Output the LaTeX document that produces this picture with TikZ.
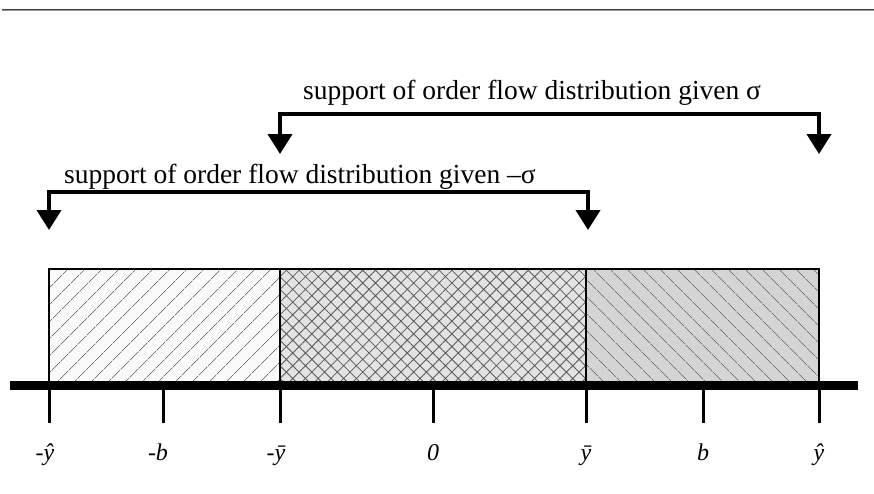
\documentclass[tikz,border=0pt]{standalone}
\usepackage{fontspec}
\setmainfont{Liberation Serif}
\usetikzlibrary{arrows.meta,patterns.meta}
\begin{document}
\begin{tikzpicture}[x=1pt,y=-1pt,
  bracket/.style={line width=4pt, line join=miter,
    {Triangle[width=24pt,length=20pt]}-{Triangle[width=24pt,length=20pt]}},
  ticklbl/.style={font=\fontsize{24}{28}\selectfont\itshape, anchor=base, inner sep=0pt},
  lbl/.style={font=\fontsize{27.5}{32}\selectfont, anchor=base west, inner sep=0pt},
  tickmark/.style={line width=3pt},
  boxline/.style={draw=black, line width=1.6pt}]
\useasboundingbox (0,0) rectangle (874,493);
% top rule
\draw[line width=1pt, black!75] (2,9) -- (874,9);
\draw[line width=1pt, black!40] (2,10) -- (874,10);
% boxes
\fill[black!2] (49,269) rectangle (280,381);
\fill[pattern={Lines[angle=45,distance=13pt,line width=0.8pt]}, pattern color=black!55] (49,269) rectangle (280,381);
\fill[black!11] (280,269) rectangle (586,381);
\fill[pattern={Hatch[angle=45,distance=9pt,line width=0.8pt]}, pattern color=black!65] (280,269) rectangle (586,381);
\fill[black!17] (586,269) rectangle (819,381);
\fill[pattern={Lines[angle=-45,distance=13pt,line width=0.8pt]}, pattern color=black!55] (586,269) rectangle (819,381);
\draw[boxline] (49,381) -- (49,269) -- (819,269) -- (819,381);
\draw[boxline] (280,269) -- (280,381);
\draw[boxline] (586,269) -- (586,381);
% axis
\coordinate (axL) at (10,385);
\coordinate (axR) at (858,385);
\draw[line width=9pt] (axL) -- (axR);
% ticks and labels
\foreach \n/\x in {t1/49,t2/163,t3/280,t4/433,t5/586,t6/703,t7/819}{
  \coordinate (\n a) at (\x,389);
  \coordinate (\n b) at (\x,423);
  \draw[tickmark] (\n a) -- (\n b);
}
\node[ticklbl] (l1) at (45,460) {-\^y};
\node[ticklbl] (l2) at (158,460) {-b};
\node[ticklbl] (l3) at (276,460) {-\=y};
\node[ticklbl] (l4) at (433,460) {0};
\node[ticklbl] (l5) at (586,460) {\=y};
\node[ticklbl] (l6) at (703,460) {b};
\node[ticklbl] (l7) at (819,460) {\^y};
% brackets
\coordinate (u1) at (280,154);
\coordinate (u2) at (280,114);
\coordinate (u3) at (819,114);
\coordinate (u4) at (819,154);
\draw[bracket] (u1) -- (u2) -- (u3) -- (u4);
\coordinate (d1) at (49,230);
\coordinate (d2) at (49,192);
\coordinate (d3) at (588,192);
\coordinate (d4) at (588,230);
\draw[bracket] (d1) -- (d2) -- (d3) -- (d4);
\node[lbl] (ut) at (303,99) {support of order flow distribution given σ};
\node[lbl] (dt) at (64,183) {support of order flow distribution given –σ};
\end{tikzpicture}
\end{document}
